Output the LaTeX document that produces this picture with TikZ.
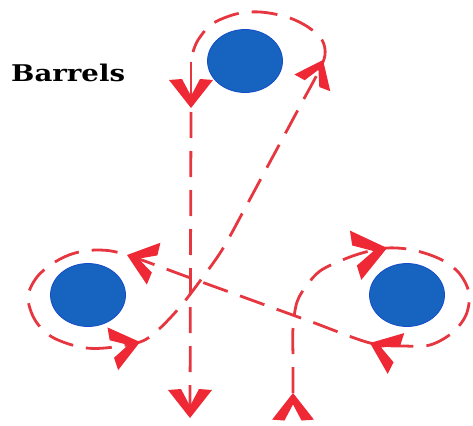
\documentclass[tikz,border=0pt]{standalone}
\usepackage{fontspec}
\newfontfamily\labelfont{DejaVu Serif}
\definecolor{arrowred}{RGB}{238,40,52}
\definecolor{dashred}{RGB}{230,55,65}
\definecolor{barrelblue}{RGB}{22,100,192}
\definecolor{barreledge}{RGB}{20,75,200}
\tikzset{
  flow/.style={draw=dashred, line width=2.8pt, dash pattern=on 26pt off 13pt, line cap=butt},
  solidflow/.style={draw=dashred, line width=2.8pt},
  barrel/.style={ellipse, fill=barrelblue, draw=barreledge, line width=0.8pt, minimum width=75pt, minimum height=63pt, inner sep=0pt},
  chev/.pic={\fill[arrowred] (0,0) -- (-28,22) -- (-29,9) -- (-12,0) -- (-29,-9) -- (-28,-22) -- cycle;}
}
\usetikzlibrary{shapes.geometric}
\begin{document}
\begin{tikzpicture}[x=1pt,y=1pt]
\useasboundingbox (0,0) rectangle (473,-425);
% barrels
\node[barrel] (top) at (245,-61) {};
\node[barrel] (left) at (88,-295) {};
\node[barrel] (right) at (407,-295) {};
% label
\node[anchor=base west, inner sep=0pt] (lbl) at (11,-82) {\scalebox{1.2}[1]{\labelfont\bfseries\fontsize{23}{23}\selectfont Barrels}};
% main trajectory
\draw[flow] plot[smooth, tension=0.55] coordinates {
 (293,-393) (293,-360) (293,-328) (297,-302) (307,-285) (320,-271) (340,-261) (362,-253) (387,-248)
 (413,-250) (440,-259) (459,-273) (469,-293) (466,-315) (452,-333) (430,-345) (405,-346) (370,-343)
 (310,-321.3) (250,-299.5) (190,-277.8) (127,-255)
 (100,-250) (75,-253) (55,-262) (37,-277) (28,-297) (35,-320) (52,-337) (80,-347) (105,-348) (140,-342)
 (158,-330) (180,-307) (200,-281) (222,-250) (243,-212) (262,-176.7) (282,-139.6) (302,-102.4) (318,-72.7)
 (325,-55) (322,-40) (308,-27) (287,-17) (260,-12) (236,-14) (212,-24) (198,-40) (193,-52)};
% vertical descent
\coordinate (vA) at (191,-62);
\coordinate (vB) at (191,-98);
\coordinate (vC) at (191,-112);
\coordinate (vD) at (190,-410);
\draw[solidflow] (vA) -- (vB);
\draw[flow] (vC) -- (vD);
% arrow tips
\coordinate (tTL) at (191,-108);
\coordinate (tTR) at (323,-60);
\coordinate (tLT) at (127,-255);
\coordinate (tLB) at (140,-342);
\coordinate (tRT) at (387,-248);
\coordinate (tRB) at (370,-343);
\coordinate (tBL) at (190,-418);
\coordinate (tBR) at (293,-393);
\pic[rotate=-90] at (tTL) {chev};
\pic[rotate=65, scale=0.9] at (tTR) {chev};
\pic[rotate=162] at (tLT) {chev};
\pic[rotate=14] at (tLB) {chev};
\pic[rotate=13, scale=1.15] at (tRT) {chev};
\pic[rotate=158] at (tRB) {chev};
\pic[rotate=-90] at (tBL) {chev};
\pic[rotate=90, scale=0.95] at (tBR) {chev};
\end{tikzpicture}
\end{document}
